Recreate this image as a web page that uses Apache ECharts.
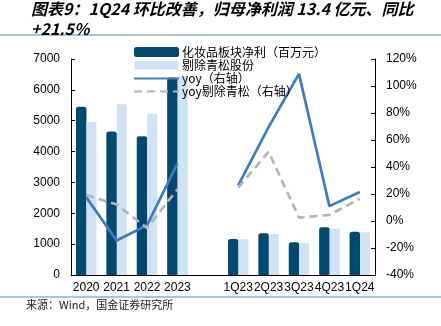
<!DOCTYPE html>
<html>
<head>
<meta charset="utf-8">
<script src="https://cdn.jsdelivr.net/npm/echarts@6/dist/echarts.min.js"></script>
<style>
html,body{margin:0;padding:0;background:#fff;}
#main{width:441px;height:326px;}
</style>
</head>
<body>
<div id="main"></div>
<script>
var categories = ['2020', '2021', '2022', '2023', '', '1Q23', '2Q23', '3Q23', '4Q23', '1Q24'];
var netProfit = [5450, 4650, 4500, 6400, '-', 1165, 1350, 1065, 1545, 1400];
var exQingsong = [4960, 5530, 5220, 6430, '-', 1160, 1320, 1030, 1500, 1385];
var yoy = [17.7, -14.5, -3.2, 42.5, '-', 26.4, 69.5, 109, 11, 21.5];
var yoyEx = [19.2, 12.3, -5.2, 23.4, '-', 24.7, 51.2, 2.5, 4.5, 16.5];
var leftTicks = {min: 0, max: 7000, interval: 1000};
var rightTicks = {min: -40, max: 120, interval: 20};

var names = ['化妆品板块净利（百万元）', '剔除青松股份', 'yoy（右轴）', 'yoy剔除青松（右轴）'];
var cDark = '#004a70', cLight = '#d0e2f3', cBlue = '#3d7cc4', cGray = '#b5b5b5';
var axisFont = 'Liberation Sans, Arial, sans-serif';

var chart = echarts.init(document.getElementById('main'), null, {renderer: 'canvas'});
chart.setOption({
  animation: false,
  backgroundColor: '#fff',
  title: {
    text: '图表9：1Q24 环比改善，归母净利润 13.4 亿元、同比\n+21.5%',
    left: 26, top: -6,
    textStyle: {fontFamily: 'Noto Sans CJK SC', fontSize: 16, fontWeight: 'bold', fontStyle: 'italic', color: '#000', lineHeight: 20}
  },
  graphic: [
    {type: 'line', shape: {x1: 0, y1: 35, x2: 441, y2: 35}, style: {stroke: '#adc3d3', lineWidth: 2}},
    {type: 'line', shape: {x1: 0, y1: 297, x2: 441, y2: 297}, style: {stroke: '#adc3d3', lineWidth: 2}},
    {type: 'text', left: 26, top: 299, style: {text: '来源：Wind，国金证券研究所', fontFamily: 'Noto Sans CJK SC', fontSize: 11, fill: '#222'}}
  ],
  legend: {
    orient: 'vertical', left: 128, top: 41,
    itemWidth: 45, itemHeight: 10, itemGap: 1.2,
    textStyle: {fontFamily: 'Noto Sans CJK SC', fontSize: 12, color: '#000', padding: [0, 0, 0, -2]},
    data: [
      {name: names[0], icon: 'roundRect'},
      {name: names[1], icon: 'rect', itemStyle: {borderColor: '#fff', borderWidth: 1.5}},
      {name: names[2], itemStyle: {opacity: 0}},
      {name: names[3], itemStyle: {opacity: 0}}
    ]
  },
  grid: {left: 71, right: 66, top: 59, bottom: 51},
  xAxis: {
    type: 'category', data: categories,
    axisLine: {lineStyle: {color: '#000', width: 1}},
    axisTick: {inside: true, length: 4, lineStyle: {color: '#000'}},
    axisLabel: {interval: 0, margin: 7, fontFamily: axisFont, fontSize: 12, color: '#000'}
  },
  yAxis: [
    {
      type: 'value', min: leftTicks.min, max: leftTicks.max, interval: leftTicks.interval,
      axisLine: {show: true, lineStyle: {color: '#000'}},
      axisTick: {show: true, inside: true, length: 4, lineStyle: {color: '#000'}},
      splitLine: {show: false},
      axisLabel: {margin: 11, formatter: function (v) { return String(v); }, fontFamily: axisFont, fontSize: 12, color: '#000'}
    },
    {
      type: 'value', min: rightTicks.min, max: rightTicks.max, interval: rightTicks.interval,
      axisLine: {show: true, lineStyle: {color: '#000'}},
      axisTick: {show: true, inside: true, length: 4, lineStyle: {color: '#000'}},
      splitLine: {show: false},
      axisLabel: {margin: 11, formatter: '{value}%', fontFamily: axisFont, fontSize: 12, color: '#000'}
    }
  ],
  series: [
    {name: names[0], type: 'bar', data: netProfit, barWidth: 10.5, barGap: '0%',
     itemStyle: {color: cDark, borderRadius: [2.5, 2.5, 0, 0]}},
    {name: names[1], type: 'bar', data: exQingsong, barWidth: 10, barGap: '0%',
     itemStyle: {color: cLight}},
    {name: names[2], type: 'line', yAxisIndex: 1, data: yoy, symbol: 'none', connectNulls: false,
     lineStyle: {color: cBlue, width: 2.7}, itemStyle: {color: cBlue}},
    {name: names[3], type: 'line', yAxisIndex: 1, data: yoyEx, symbol: 'none', connectNulls: false,
     lineStyle: {color: cGray, width: 2.7, type: [8, 5]}, itemStyle: {color: cGray}}
  ]
});
</script>
</body>
</html>
